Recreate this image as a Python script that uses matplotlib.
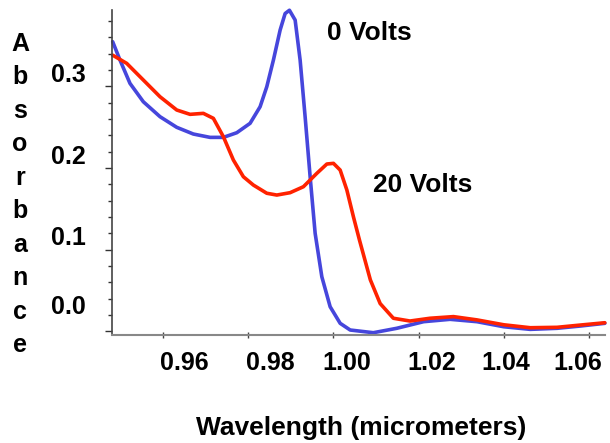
import numpy as np
import matplotlib.pyplot as plt

# Wavelength (micrometers) and absorbance
wl_0v = [0.94826, 0.94998, 0.95232, 0.95545, 0.95937, 0.96329, 0.96718, 0.97110,
         0.97423, 0.97737, 0.98049, 0.98284, 0.98441, 0.98596, 0.98754, 0.98871,
         0.98972, 0.99106, 0.99223, 0.99340, 0.99458, 0.99575, 0.99732, 0.99927,
         1.00162, 1.00397, 1.00940, 1.01490, 1.02120, 1.02740, 1.03370, 1.04000,
         1.04620, 1.05250, 1.05800, 1.06370]
abs_0v = [0.3545, 0.332, 0.3035, 0.281, 0.2627, 0.2497, 0.2415, 0.2374,
          0.2374, 0.2431, 0.2546, 0.2749, 0.2994, 0.332, 0.3688, 0.389,
          0.393, 0.381, 0.332, 0.2627, 0.189, 0.120, 0.0668, 0.0301,
          0.0098, 0.0016, -0.0017, 0.0037, 0.0118, 0.0147, 0.0118, 0.0056,
          0.0024, 0.0037, 0.0065, 0.0098]

wl_20v = [0.94826, 0.95155, 0.95545, 0.95937, 0.96329, 0.96641, 0.96953, 0.97188,
          0.97423, 0.97657, 0.97892, 0.98127, 0.98441, 0.98676, 0.98988, 0.99300,
          0.99615, 0.99850, 1.00005, 1.00162, 1.00319, 1.00474, 1.00615, 1.00870,
          1.01100, 1.01410, 1.01800, 1.02270, 1.02820, 1.03370, 1.04000, 1.04620,
          1.05250, 1.05800, 1.06370]
abs_20v = [0.338, 0.328, 0.3076, 0.2871, 0.2709, 0.2656, 0.2668, 0.2607,
           0.2382, 0.2097, 0.1892, 0.179, 0.169, 0.1668, 0.1697, 0.177,
           0.1934, 0.2048, 0.2056, 0.1974, 0.173, 0.140, 0.1117, 0.063,
           0.034, 0.016, 0.0126, 0.016, 0.018, 0.014, 0.008, 0.0044,
           0.0049, 0.0077, 0.0105]

xticks = [0.96, 0.98, 1.00, 1.02, 1.04, 1.06]
xtick_text = ['0.96', '0.98', '1.00', '1.02', '1.04', '1.06']
xtick_text_x = [0.96516, 0.98516, 1.00313, 1.02308, 1.04042, 1.05725]  # labels drift off their ticks
ytick_vals = [0.0, 0.1, 0.2, 0.3]
ytick_text = ['0.0', '0.1', '0.2', '0.3']
ytick_text_y = [0.030, 0.114, 0.213, 0.314]  # labels sit above their ticks

plt.rcParams['font.family'] = ['Liberation Sans', 'DejaVu Sans']
plt.rcParams['font.weight'] = 'bold'

fig = plt.figure(figsize=(6.10, 4.43), dpi=100)
ax = fig.add_axes([0.1831, 0.2438, 0.808, 0.7336])

ax.plot(wl_0v, abs_0v, color='#4646dc', lw=2.6, solid_capstyle='round',
        solid_joinstyle='round', clip_on=False)
ax.plot(wl_20v, abs_20v, color='#ff2200', lw=2.6, solid_capstyle='round',
        solid_joinstyle='round', clip_on=False)

ax.set_xlim(0.94803, 1.06364)
ax.set_ylim(-0.0045, 0.3933)

ax.spines['top'].set_visible(False)
ax.spines['right'].set_visible(False)
ax.spines['left'].set_color('#444444')
ax.spines['bottom'].set_color('#888888')
ax.spines['left'].set_linewidth(1.2)
ax.spines['bottom'].set_linewidth(1.5)

ax.set_xticks(xticks)
ax.set_xticklabels([])
ax.tick_params(axis='x', direction='inout', length=5, width=1, color='#444444')
for lab, xv in zip(xtick_text, xtick_text_x):
    ax.text(xv, -0.086, lab, transform=ax.get_xaxis_transform(), ha='center',
            va='center', fontsize=18, fontweight='bold')

ax.set_yticks(ytick_vals)
ax.set_yticks(np.arange(0, 0.39, 0.02), minor=True)
ax.set_yticklabels([])
ax.tick_params(axis='y', which='major', direction='out', length=5, width=1, color='#333333')
ax.tick_params(axis='y', which='minor', direction='out', length=3, width=1, color='#333333')
for lab, yv in zip(ytick_text, ytick_text_y):
    ax.text(-0.053, yv, lab, transform=ax.get_yaxis_transform(), ha='right',
            va='center', fontsize=18, fontweight='bold')

ax.text(0.99857, 0.365, '0 Volts', fontsize=19, fontweight='bold', va='center')
ax.text(1.00935, 0.179, '20 Volts', fontsize=19, fontweight='bold', va='center')

fig.text(0.033, 0.561, '\n'.join('Absorbance'), ha='center', va='center',
         fontsize=18, fontweight='bold', linespacing=1.5)
fig.text(0.592, 0.034, 'Wavelength (micrometers)', ha='center', va='center',
         fontsize=19, fontweight='bold')

fig.savefig('out.png', dpi=100)
